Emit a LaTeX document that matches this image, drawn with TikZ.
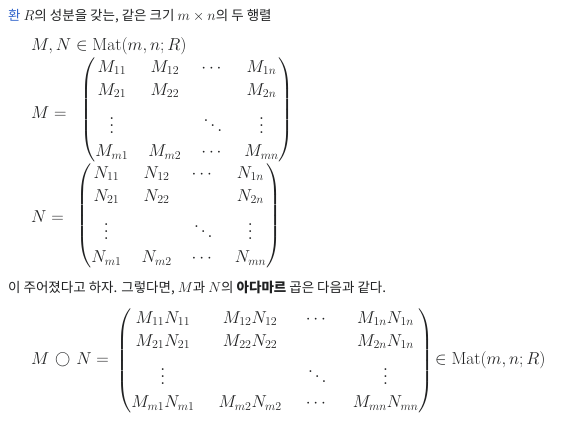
\documentclass[tikz,border=0pt]{standalone}
\usepackage{amsmath}
\usepackage{fontspec}
\newfontfamily\kr{Noto Sans CJK KR}
\definecolor{ink}{HTML}{202122}
\definecolor{link}{HTML}{3366CC}
\setlength{\arraycolsep}{10pt}
\renewcommand{\arraystretch}{1.1}
\newcommand{\hadprod}{\mathbin{\vcenter{\hbox{\makebox[1.1em]{\scalebox{0.88}{$\bigcirc$}}}}}}
\newcommand{\bvdots}{\scalebox{1.75}{\fontsize{10}{12}\selectfont$\vdots$}}
\newcommand{\bddots}{\scalebox{1.75}{\fontsize{10}{12}\selectfont$\ddots$}}
\newcommand{\im}[1]{{\fontsize{15.5}{16}\selectfont$#1$}}
\begin{document}
\begin{tikzpicture}[x=1pt,y=-1pt,
  txt/.style={anchor=base west, inner sep=0pt, text=ink, font=\kr\fontsize{13.5}{16}\selectfont},
  mth/.style={anchor=base west, inner sep=0pt, text=ink, font=\fontsize{17.5}{21}\selectfont}]
\useasboundingbox (0,0) rectangle (566,423);
\fill[white] (0,0) rectangle (566,423);
\node[txt] (l1) at (8,20) {{\color{link}환} \im{R}의 성분을 갖는, 같은 크기 \im{m\times n}의 두 행렬};
\node[mth] (mn) at (31,50) {$M, N \in \mathrm{Mat}(m,n;R)$};
\node[mth] (meq) at (31,118) {$M =$};
\node[mth] (mm) at (80,114) {$\begin{pmatrix} M_{11} & M_{12} & \cdots & M_{1n}\\ M_{21} & M_{22} & & M_{2n}\\[5pt] \bvdots & & \bddots & \bvdots\\ M_{m1} & M_{m2} & \cdots & M_{mn}\end{pmatrix}$};
\node[mth] (neq) at (31,222) {$N =$};
\node[mth] (nn) at (76,220) {$\begin{pmatrix} N_{11} & N_{12} & \cdots & N_{1n}\\ N_{21} & N_{22} & & N_{2n}\\[5pt] \bvdots & & \bddots & \bvdots\\ N_{m1} & N_{m2} & \cdots & N_{mn}\end{pmatrix}$};
\node[txt] (l2) at (8,292) {이 주어졌다고 하자. 그렇다면, \im{M}과 \im{N}의 \textbf{아다마르} 곱은 다음과 같다.};
\node[mth] (hpeq) at (31,364) {$M \hadprod N =$};
\node[mth, font=\fontsize{17.5}{21}\selectfont\setlength{\arraycolsep}{12pt}] (hp) at (116,365) {$\begin{pmatrix} M_{11}N_{11} & M_{12}N_{12} & \cdots & M_{1n}N_{1n}\\ M_{21}N_{21} & M_{22}N_{22} & & M_{2n}N_{1n}\\[5pt] \bvdots & & \bddots & \bvdots \\ M_{m1}N_{m1} & M_{m2}N_{m2} & \cdots & M_{mn}N_{mn}\end{pmatrix}$};
\node[mth] (hpmat) at (435,364) {$\in \mathrm{Mat}(m,n;R)$};
\end{tikzpicture}
\end{document}
